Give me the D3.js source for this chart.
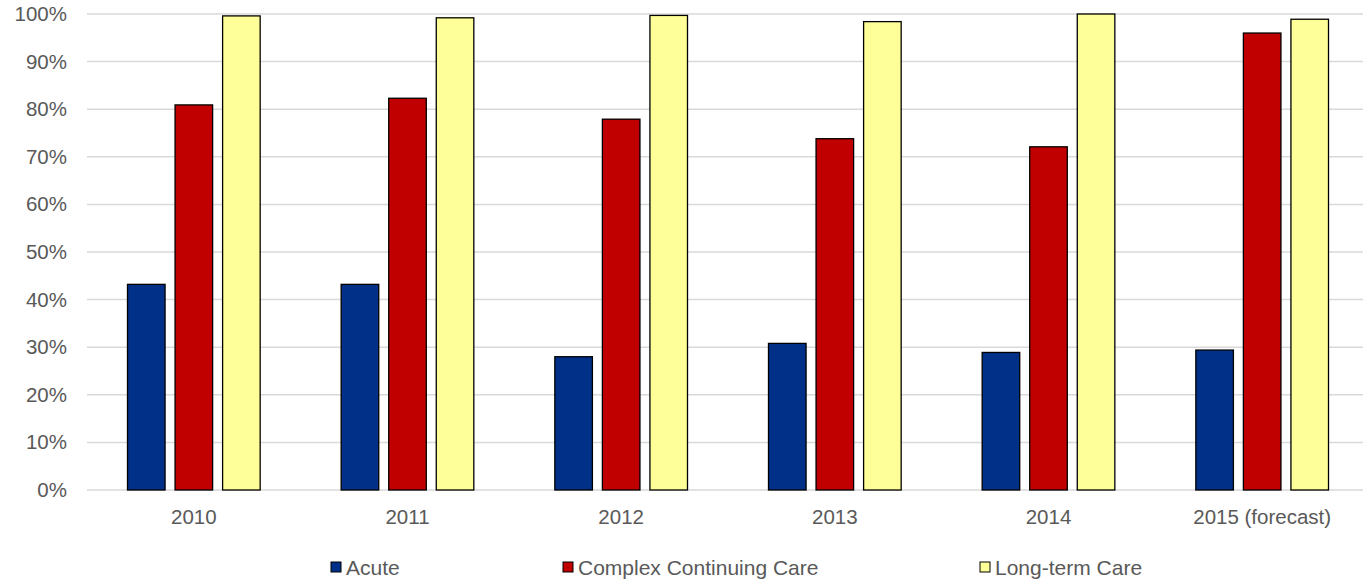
<!DOCTYPE html>
<html>
<head>
<meta charset="utf-8">
<script src="https://cdn.jsdelivr.net/npm/d3@7"></script>
<style>
  body { margin: 0; background: #fff; }
  svg { display: block; font-family: "Liberation Sans", Arial, sans-serif; }
</style>
</head>
<body>
<svg id="chart" width="1363" height="579"></svg>
<script>
var years = ['2010', '2011', '2012', '2013', '2014', '2015 (forecast)']
var seriesNames = ['Acute', 'Complex Continuing Care', 'Long-term Care']
var acute = [43.2, 43.2, 28.0, 30.8, 28.9, 29.4]
var complexCare = [80.9, 82.3, 77.9, 73.8, 72.1, 96.0]
var longTermCare = [99.6, 99.2, 99.7, 98.4, 100, 98.9]
var yTicks = [0, 10, 20, 30, 40, 50, 60, 70, 80, 90, 100]
var colors = ['#003087', '#c00000', '#ffff99']

draw()

function draw() {
  var svg = d3.select('#chart')
  var plotLeft = 87, plotRight = 1369, plotTop = 14, plotBottom = 490

  var rows = years.map((yr, i) => ({ year: yr, values: [acute[i], complexCare[i], longTermCare[i]] }))

  var x = d3.scaleBand().domain(years).range([plotLeft, plotRight])
  var xInner = d3.scaleBand().domain(seriesNames).range([40.5, x.bandwidth() - 40.5]).paddingInner(0.21)
  var y = d3.scaleLinear().domain([0, 100]).range([plotBottom, plotTop])

  // 격자선
  svg.append('g').selectAll('line').data(yTicks).enter().append('line')
    .attr('x1', plotLeft).attr('x2', plotRight)
    .attr('y1', d => y(d)).attr('y2', d => y(d))
    .style('stroke', '#d9d9d9').style('stroke-width', 1.5)

  // y축 라벨
  var yAxis = d3.axisLeft(y).tickValues(yTicks).tickFormat(d => d + '%').tickSize(0).tickPadding(0)
  var yg = svg.append('g').attr('transform', 'translate(67,0)').call(yAxis)
  yg.select('path.domain').remove()
  yg.selectAll('text').style('font-size', '20.5px').style('fill', '#595959')
    .style('font-family', '"Liberation Sans", Arial, sans-serif')

  // 막대
  var groups = svg.append('g').selectAll('g').data(rows).enter().append('g')
    .attr('transform', d => 'translate(' + x(d.year) + ',0)')
  groups.selectAll('rect').data(d => d.values.map((v, i) => ({ name: seriesNames[i], v: v, i: i })))
    .enter().append('rect')
    .attr('x', d => xInner(d.name))
    .attr('width', xInner.bandwidth())
    .attr('y', d => y(d.v))
    .attr('height', d => y(0) - y(d.v))
    .style('fill', d => colors[d.i])
    .style('stroke', '#000').style('stroke-width', 1.3)

  // x축 라벨
  var xAxis = d3.axisBottom(x).tickSize(0).tickPadding(0)
  var xg = svg.append('g').attr('transform', 'translate(0,509)').call(xAxis)
  xg.select('path.domain').remove()
  xg.selectAll('text').style('font-size', '20.5px').style('fill', '#595959')
    .style('font-family', '"Liberation Sans", Arial, sans-serif')

  // 범례
  var legendX = [331, 563, 980]
  var legend = svg.append('g').selectAll('g').data(seriesNames).enter().append('g')
    .attr('transform', (d, i) => 'translate(' + legendX[i] + ',562)')
  legend.append('rect').attr('width', 10).attr('height', 10)
    .style('fill', (d, i) => colors[i]).style('stroke', '#000').style('stroke-width', 1)
  legend.append('text').attr('x', 15).attr('y', 12.5).text(d => d)
    .style('font-size', '21px').style('fill', '#595959')
}
</script>
</body>
</html>
